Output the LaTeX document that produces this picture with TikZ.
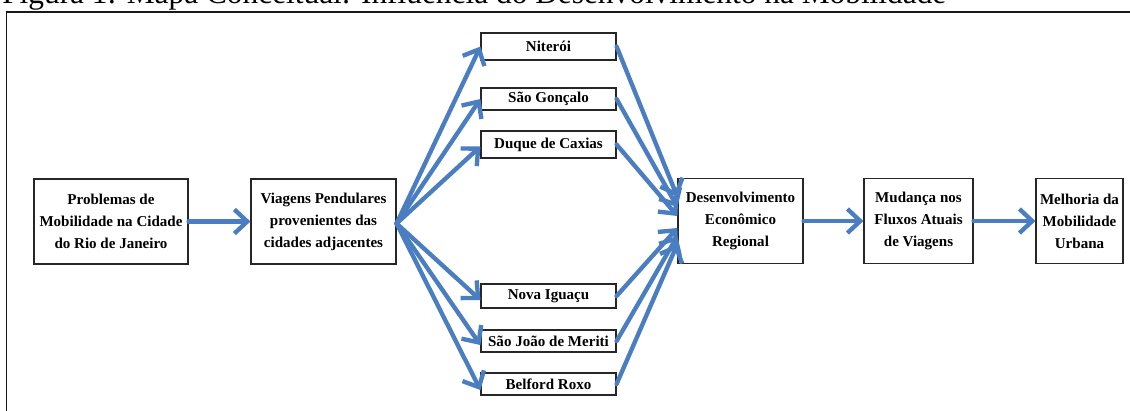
\documentclass[tikz,border=0pt]{standalone}
\usepackage{fontspec}
\setmainfont{Liberation Serif}
\usepackage{xcolor}
\usepackage{tikz}
\usetikzlibrary{shapes,arrows,arrows.meta}
\definecolor{setaazul}{RGB}{74,126,193}
\tikzstyle{bloco} = [rectangle, draw=black!85, line width=0.8pt, fill=white, align=center, inner sep=0pt,
    font=\bfseries\fontsize{10.7}{15.6}\selectfont, minimum height=2.125cm]
\tikzstyle{cidade} = [bloco, minimum width=3.375cm, minimum height=0.55cm]
\tikzstyle{seta} = [draw=setaazul, line width=3.1pt, line cap=round, -{Straight Barb[length=0.32cm,width=0.6cm]}]
\tikzstyle{moldura} = [draw=black!90, line width=1.4pt]

\begin{document}
\begin{tikzpicture}[x=0.025cm,y=-0.025cm]
      \useasboundingbox (0,0) rectangle (1130,410);
      \clip (0,0) rectangle (1130,410);

      % titulo cortado e moldura
      \node [anchor=base west, inner sep=0pt, font=\fontsize{22.3}{26}\selectfont] (titulo) at (2,3.5)
        {Figura 1: Mapa Conceitual: Influência do Desenvolvimento na Mobilidade};
      \draw [moldura] (6.5,12) rectangle (1145,425);

      \node [bloco, minimum width=3.85cm]  (problema) at (111,221.5) {Problemas de\\Mobilidade na Cidade\\do Rio de Janeiro};
      \node [bloco, minimum width=3.625cm] (viagens) at (323.5,221.5) {Viagens Pendulares\\provenientes das\\cidades adjacentes};

      \node [cidade, minimum height=0.675cm] (niteroi) at (548.5,46.5) {Niterói};
      \node [cidade] (goncalo) at (548.5,99) {São Gonçalo};
      \node [cidade, minimum height=0.675cm] (caxias) at (548.5,144.5) {Duque de Caxias};
      \node [cidade, minimum height=0.6cm] (iguacu) at (548.5,296) {Nova Iguaçu};
      \node [cidade] (meriti) at (548.5,341) {São João de Meriti};
      \node [cidade] (belford) at (548.5,384) {Belford Roxo};

      \node [bloco, minimum width=3.125cm] (desenv) at (740.5,221) {Desenvolvimento\\Econômico\\Regional};
      \node [bloco, minimum width=2.725cm] (mudanca) at (918.5,221) {Mudança nos\\Fluxos Atuais\\de Viagens};
      \node [bloco, minimum width=2.175cm] (melhoria) at (1079.5,221) {Melhoria da\\Mobilidade\\Urbana};

      \coordinate (leque) at ([yshift=-0.05cm]viagens.east);

      \path [seta] (problema) -- (viagens);
      \path [seta] (leque) -- (niteroi.west);
      \path [seta] (leque) -- (goncalo.west);
      \path [seta] (leque) -- ([yshift=-0.05cm]caxias.west);
      \path [seta] (leque) -- ([yshift=-0.1cm]iguacu.west);
      \path [seta] (leque) -- ([yshift=-0.1cm]meriti.west);
      \path [seta] (leque) -- ([yshift=-0.15cm]belford.west);

      \path [seta] (niteroi.east) -- ([yshift=0.6cm]desenv.west);
      \path [seta] (goncalo.east) -- ([yshift=0.35cm]desenv.west);
      \path [seta] (caxias.east) -- ([yshift=0.125cm]desenv.west);
      \path [seta] (iguacu.east) -- ([yshift=-0.175cm]desenv.west);
      \path [seta] (meriti.east) -- ([yshift=-0.375cm]desenv.west);
      \path [seta] (belford.east) -- ([yshift=-0.575cm]desenv.west);

      \path [seta] (desenv) -- (mudanca);
      \path [seta] (mudanca) -- (melhoria);
\end{tikzpicture}
\end{document}
